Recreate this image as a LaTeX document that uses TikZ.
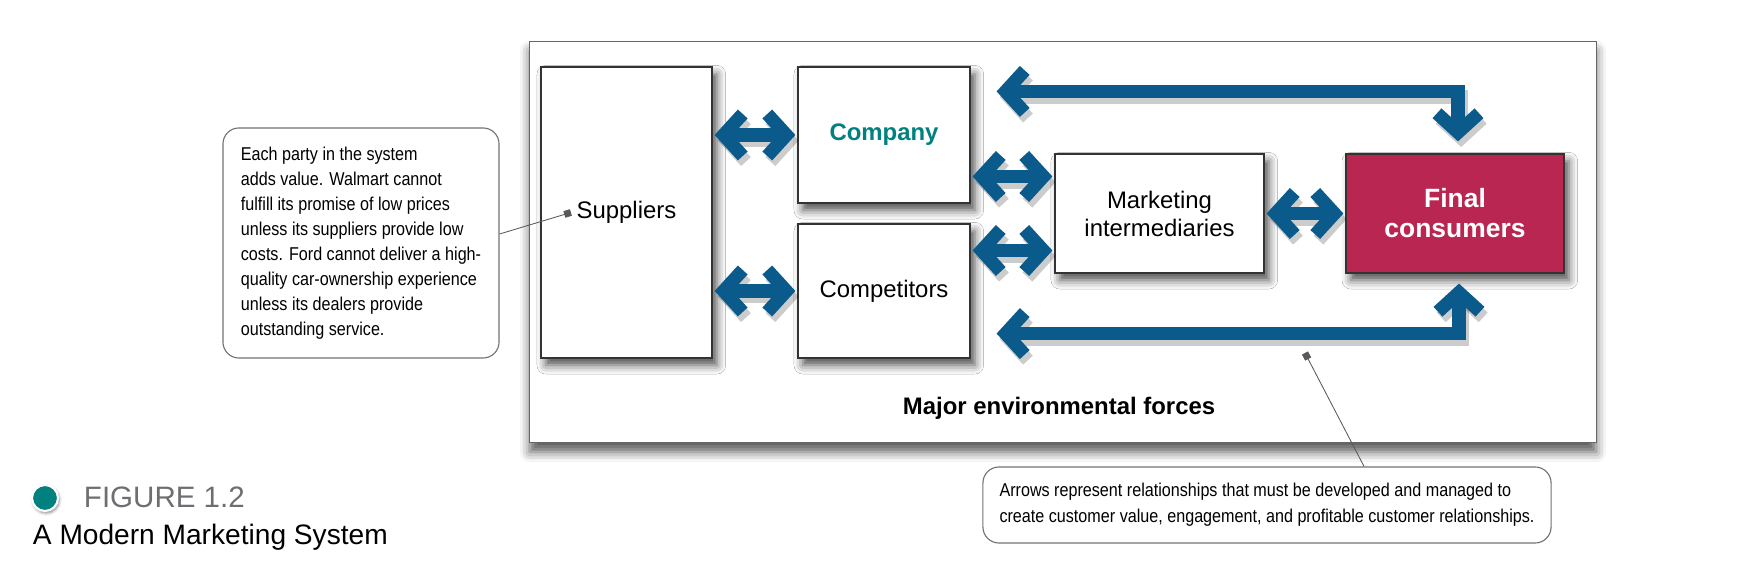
\documentclass[tikz,border=0pt]{standalone}
\usepackage{fontspec}
\setmainfont{Liberation Sans}
\newfontfamily\narrowfont{Liberation Sans}[FakeStretch=0.87]
\usetikzlibrary{arrows.meta,shadows.blur}

\definecolor{relblue}{HTML}{0B5A8C}
\definecolor{consred}{HTML}{B92652}
\definecolor{compteal}{HTML}{00807F}
\definecolor{capgray}{HTML}{6D6E71}

\def\linkwd{0.33cm}

\tikzset{
  actor/.style={draw=black!80, line width=0.8pt, fill=white, align=center,
    font=\fontsize{17}{20}\selectfont,
    blur shadow={shadow xshift=0.12cm, shadow yshift=-0.18cm, shadow opacity=70, shadow blur radius=0.22cm}},
  link/.style={line width=\linkwd, line join=miter,
    {Straight Barb[sharp, length=0.48cm, width=1.05cm]}-{Straight Barb[sharp, length=0.48cm, width=1.05cm]},
    shorten <=0.05cm, shorten >=0.05cm,
    preaction={draw=black, draw opacity=0.2, line width=\linkwd, line join=miter,
      transform canvas={shift={(0.08cm,-0.14cm)}}},
    draw=relblue},
  callout/.style={draw=black!55, line width=0.8pt, rounded corners=0.4cm, fill=white,
    align=left, font=\narrowfont\fontsize{13.2}{17.8}\selectfont},
  pointer/.style={draw=black!65, line width=0.6pt, -{Square[length=0.17cm, width=0.17cm]}}
}

\begin{document}
\begin{tikzpicture}[x=0.025cm, y=-0.025cm]
  \useasboundingbox (0,0) rectangle (1738,576);

  % environment frame
  \node[draw=black!60, line width=0.6pt, fill=white, minimum width=26.65cm, minimum height=10.025cm,
    blur shadow={shadow xshift=0cm, shadow yshift=-0.25cm, shadow opacity=65, shadow blur radius=0.25cm}]
    (env) at (1063,241.5) {};
  \node[anchor=base west, font=\bfseries\fontsize{17}{20}\selectfont] (envlabel) at (898,415) {Major environmental forces};

  % actors
  \node[actor, minimum width=4.275cm, minimum height=7.275cm] (sup) at (626.5,212.5) {Suppliers};
  \node[actor, minimum width=4.3cm, minimum height=3.4cm, text=compteal, font=\bfseries\fontsize{17}{20}\selectfont] (comp) at (884,135) {Company};
  \node[actor, minimum width=4.3cm, minimum height=3.35cm] (compet) at (884,291) {Competitors};
  \node[actor, minimum width=5.225cm, minimum height=2.975cm, font=\fontsize{17}{19.9}\selectfont] (mi) at (1159.5,213.5) {Marketing\\intermediaries};
  \node[actor, fill=consred, text=white, minimum width=5.45cm, minimum height=2.975cm,
    font=\bfseries\fontsize{18.8}{21.3}\selectfont] (fc) at (1455,213.5) {Final\\consumers};

  % relationships
  \draw[link] (comp.west -| sup.east) -- (comp.west);
  \draw[link] (compet.west -| sup.east) -- (compet.west);
  \draw[link] ([yshift=0.925cm]mi.west -| comp.east) -- ([yshift=0.925cm]mi.west);
  \draw[link] ([yshift=-0.925cm]mi.west -| compet.east) -- ([yshift=-0.925cm]mi.west);
  \draw[link] (mi.east) -- (fc.west);
  \draw[link, shorten <=0pt, shorten >=0pt] ([xshift=0.075cm, yshift=0.3cm]fc.north) |- ([xshift=0.65cm, yshift=-0.625cm]comp.north east);
  \draw[link, shorten <=0pt, shorten >=0pt] ([xshift=0.1cm, yshift=-0.25cm]fc.south) |- ([xshift=0.65cm, yshift=0.625cm]compet.south east);

  % callouts
  \node[callout, minimum width=6.9cm, minimum height=5.75cm] (partynote) at (361,243)
    {Each party in the system\\adds value. Walmart cannot\\fulfill its promise of low prices\\unless its suppliers provide low\\costs. Ford cannot deliver a high-\\quality car-ownership experience\\unless its dealers provide\\outstanding service.};
  \coordinate (supdot) at ([xshift=-1.39cm]sup.center);
  \draw[pointer] ([yshift=0.225cm]partynote.east) -- (supdot);

  \node[callout, minimum width=14.2cm, minimum height=1.9cm, font=\narrowfont\fontsize{13.2}{18.5}\selectfont] (arrownote) at (1267,505)
    {Arrows represent relationships that must be developed and managed to\\create customer value, engagement, and profitable customer relationships.};
  \coordinate (arrowdot) at (1305,353);
  \draw[pointer] ([xshift=2.425cm]arrownote.north) -- (arrowdot);

  % caption
  \node[circle, fill=compteal, draw=white, line width=1.5pt, minimum size=0.65cm,
    blur shadow={shadow xshift=0.03cm, shadow yshift=-0.05cm, shadow opacity=50}] (figdot) at (45,498) {};
  \node[anchor=base west, text=capgray, font=\fontsize{21}{24}\selectfont] (figno) at (79,507) {FIGURE 1.2};
  \node[anchor=base west, font=\fontsize{20}{24}\selectfont] (figtitle) at (28,545) {A Modern Marketing System};
\end{tikzpicture}
\end{document}
